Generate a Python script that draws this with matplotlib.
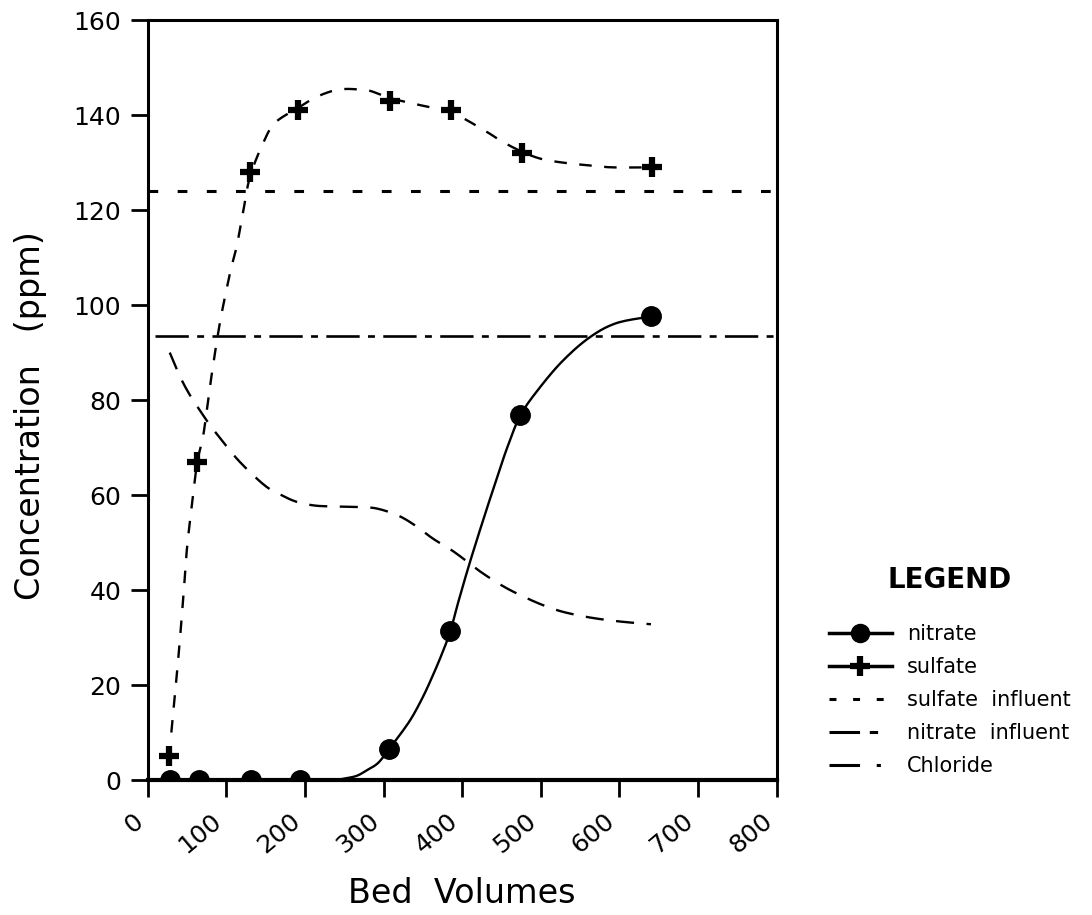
import numpy as np
import matplotlib
matplotlib.use("Agg")
import matplotlib.pyplot as plt
from matplotlib.lines import Line2D

plt.rcParams['font.family'] = ['DejaVu Sans']
plt.rcParams['lines.scale_dashes'] = False

# measured points
bed_nitrate = [28, 65, 131, 194, 307, 385, 474, 640]
nitrate = [0, 0, 0, 0, 6.5, 31.4, 76.8, 97.6]

bed_sulfate = [27, 63, 130, 191, 308, 386, 476, 641]
sulfate = [5, 67, 128, 141, 143, 141, 132, 129]

# fitted curves as drawn on the original
nitrate_fit_x = [28, 65, 131, 194, 234, 250, 266, 279, 293, 307, 322, 336, 350,
                 362, 374, 385, 395, 410, 430, 445, 457, 474, 498, 528, 562, 596, 640]
nitrate_fit_y = [0, 0, 0, 0, 0, 0.3, 0.9, 2.1, 3.6, 6.5, 9.8, 13.2, 17.5,
                 21.8, 26.5, 31.4, 37.5, 46, 56.5, 64, 69.9, 76.8, 82.5, 88.3, 93.2, 96.2, 97.6]

sulfate_fit_x = [30, 38, 45, 50, 57, 63, 70, 75, 81, 92, 105, 113, 121, 130, 147,
                 162, 191, 213, 235, 251, 268, 283, 308, 338, 386, 426, 450, 476,
                 500, 528, 562, 591, 641]
sulfate_fit_y = [10, 24, 38, 49, 59, 67, 72, 77.7, 85, 96.5, 107, 112.3, 119.3, 127,
                 134.2, 138.4, 141.5, 143.7, 145.1, 145.5, 145.4, 145.1, 143.6, 142.4, 140.5,
                 137, 134.5, 132.3, 130.8, 130, 129.4, 129, 129]

chloride_x = [28, 40, 52, 64, 78, 92, 117, 149, 170, 189, 212, 236, 260, 282,
              300, 321, 341, 363, 390, 422, 450, 473, 500, 524, 550, 575, 605, 640]
chloride_y = [90, 85.3, 81.5, 78.4, 75, 72, 67, 62, 60, 58.6, 57.8, 57.6, 57.5, 57.4,
              56.8, 55.5, 53.5, 50.8, 48, 44, 41, 39, 37, 35.6, 34.6, 33.9, 33.3, 32.8]

sulfate_influent = 124
nitrate_influent = 93.4

x_ticks = np.arange(0, 801, 100)
y_ticks = np.arange(0, 161, 20)


def smooth(xs, ys, steps=12):
    # catmull-rom pass through the read points, only to draw them as a curve
    p = np.column_stack([xs, ys]).astype(float)
    p = np.vstack([p[0], p, p[-1]])
    out = []
    for i in range(1, len(p) - 2):
        p0, p1, p2, p3 = p[i - 1], p[i], p[i + 1], p[i + 2]
        for t in np.linspace(0, 1, steps, endpoint=False):
            t2, t3 = t * t, t * t * t
            out.append(0.5 * (2 * p1 + (p2 - p0) * t
                              + (2 * p0 - 5 * p1 + 4 * p2 - p3) * t2
                              + (3 * p1 - p0 - 3 * p2 + p3) * t3))
    out.append(p[-2])
    out = np.array(out)
    return out[:, 0], out[:, 1]


fig = plt.figure(figsize=(10.92, 9.15), dpi=100)
ax = fig.add_axes([0.1353, 0.1475, 0.576, 0.8305])

lw = 1.7
ax.plot(*smooth(nitrate_fit_x, nitrate_fit_y), color='black', lw=lw)
ax.plot(*smooth(sulfate_fit_x, sulfate_fit_y), color='black', lw=lw, dashes=(9, 9))
ax.plot(*smooth(chloride_x, chloride_y), color='black', lw=lw, dashes=(13, 9))
ax.axhline(sulfate_influent, xmin=0, xmax=1, color='black', lw=2.2, dashes=(7, 14))
ax.axhline(nitrate_influent, xmin=0.012, xmax=1, color='black', lw=1.9,
           dashes=(24, 6, 5, 6))

ax.plot(bed_nitrate, nitrate, linestyle='none', marker='o', ms=14,
        color='black', zorder=5)
ax.plot(bed_sulfate, sulfate, linestyle='none', marker='+', ms=15, mew=4.5,
        color='black', zorder=5)

ax.set_xlim(0, 800)
ax.set_ylim(0, 160)
ax.set_xticks(x_ticks)
ax.set_yticks(y_ticks)
ax.set_xticklabels([str(v) for v in x_ticks], rotation=40, ha='right',
                   va='top', rotation_mode='default')
ax.tick_params(direction='out', length=12, width=2, labelsize=18, pad=7)
ax.tick_params(axis='x', pad=9)
for s in ax.spines.values():
    s.set_linewidth(2.2)
ax.spines['bottom'].set_linewidth(3)

ax.set_xlabel('Bed  Volumes', fontsize=24)
ax.xaxis.set_label_coords(0.5, -0.128)
ax.set_ylabel('Concentration   (ppm)', fontsize=24)
ax.yaxis.set_label_coords(-0.16, 0.48)

handles = [
    Line2D([], [], color='black', lw=2.5, marker='o', ms=13),
    Line2D([], [], color='black', lw=2.5, marker='+', ms=14, mew=4.5),
    Line2D([], [], color='black', lw=2.2, dashes=(5, 12)),
    Line2D([], [], color='black', lw=2.2, dashes=(22, 7, 6, 20)),
    Line2D([], [], color='black', lw=2.2, dashes=(22, 12, 3, 30)),
]
labels = ['nitrate', 'sulfate', 'sulfate  influent', 'nitrate  influent', 'Chloride']
leg = fig.legend(handles, labels, loc='upper left', bbox_to_anchor=(0.742, 0.402),
                 frameon=False, fontsize=15, handlelength=3.0, handletextpad=0.75,
                 labelspacing=0.62, title='LEGEND',
                 title_fontproperties={'size': 20, 'weight': 'bold'})
leg._legend_box.sep = 22

fig.savefig('out.png', dpi=100)
